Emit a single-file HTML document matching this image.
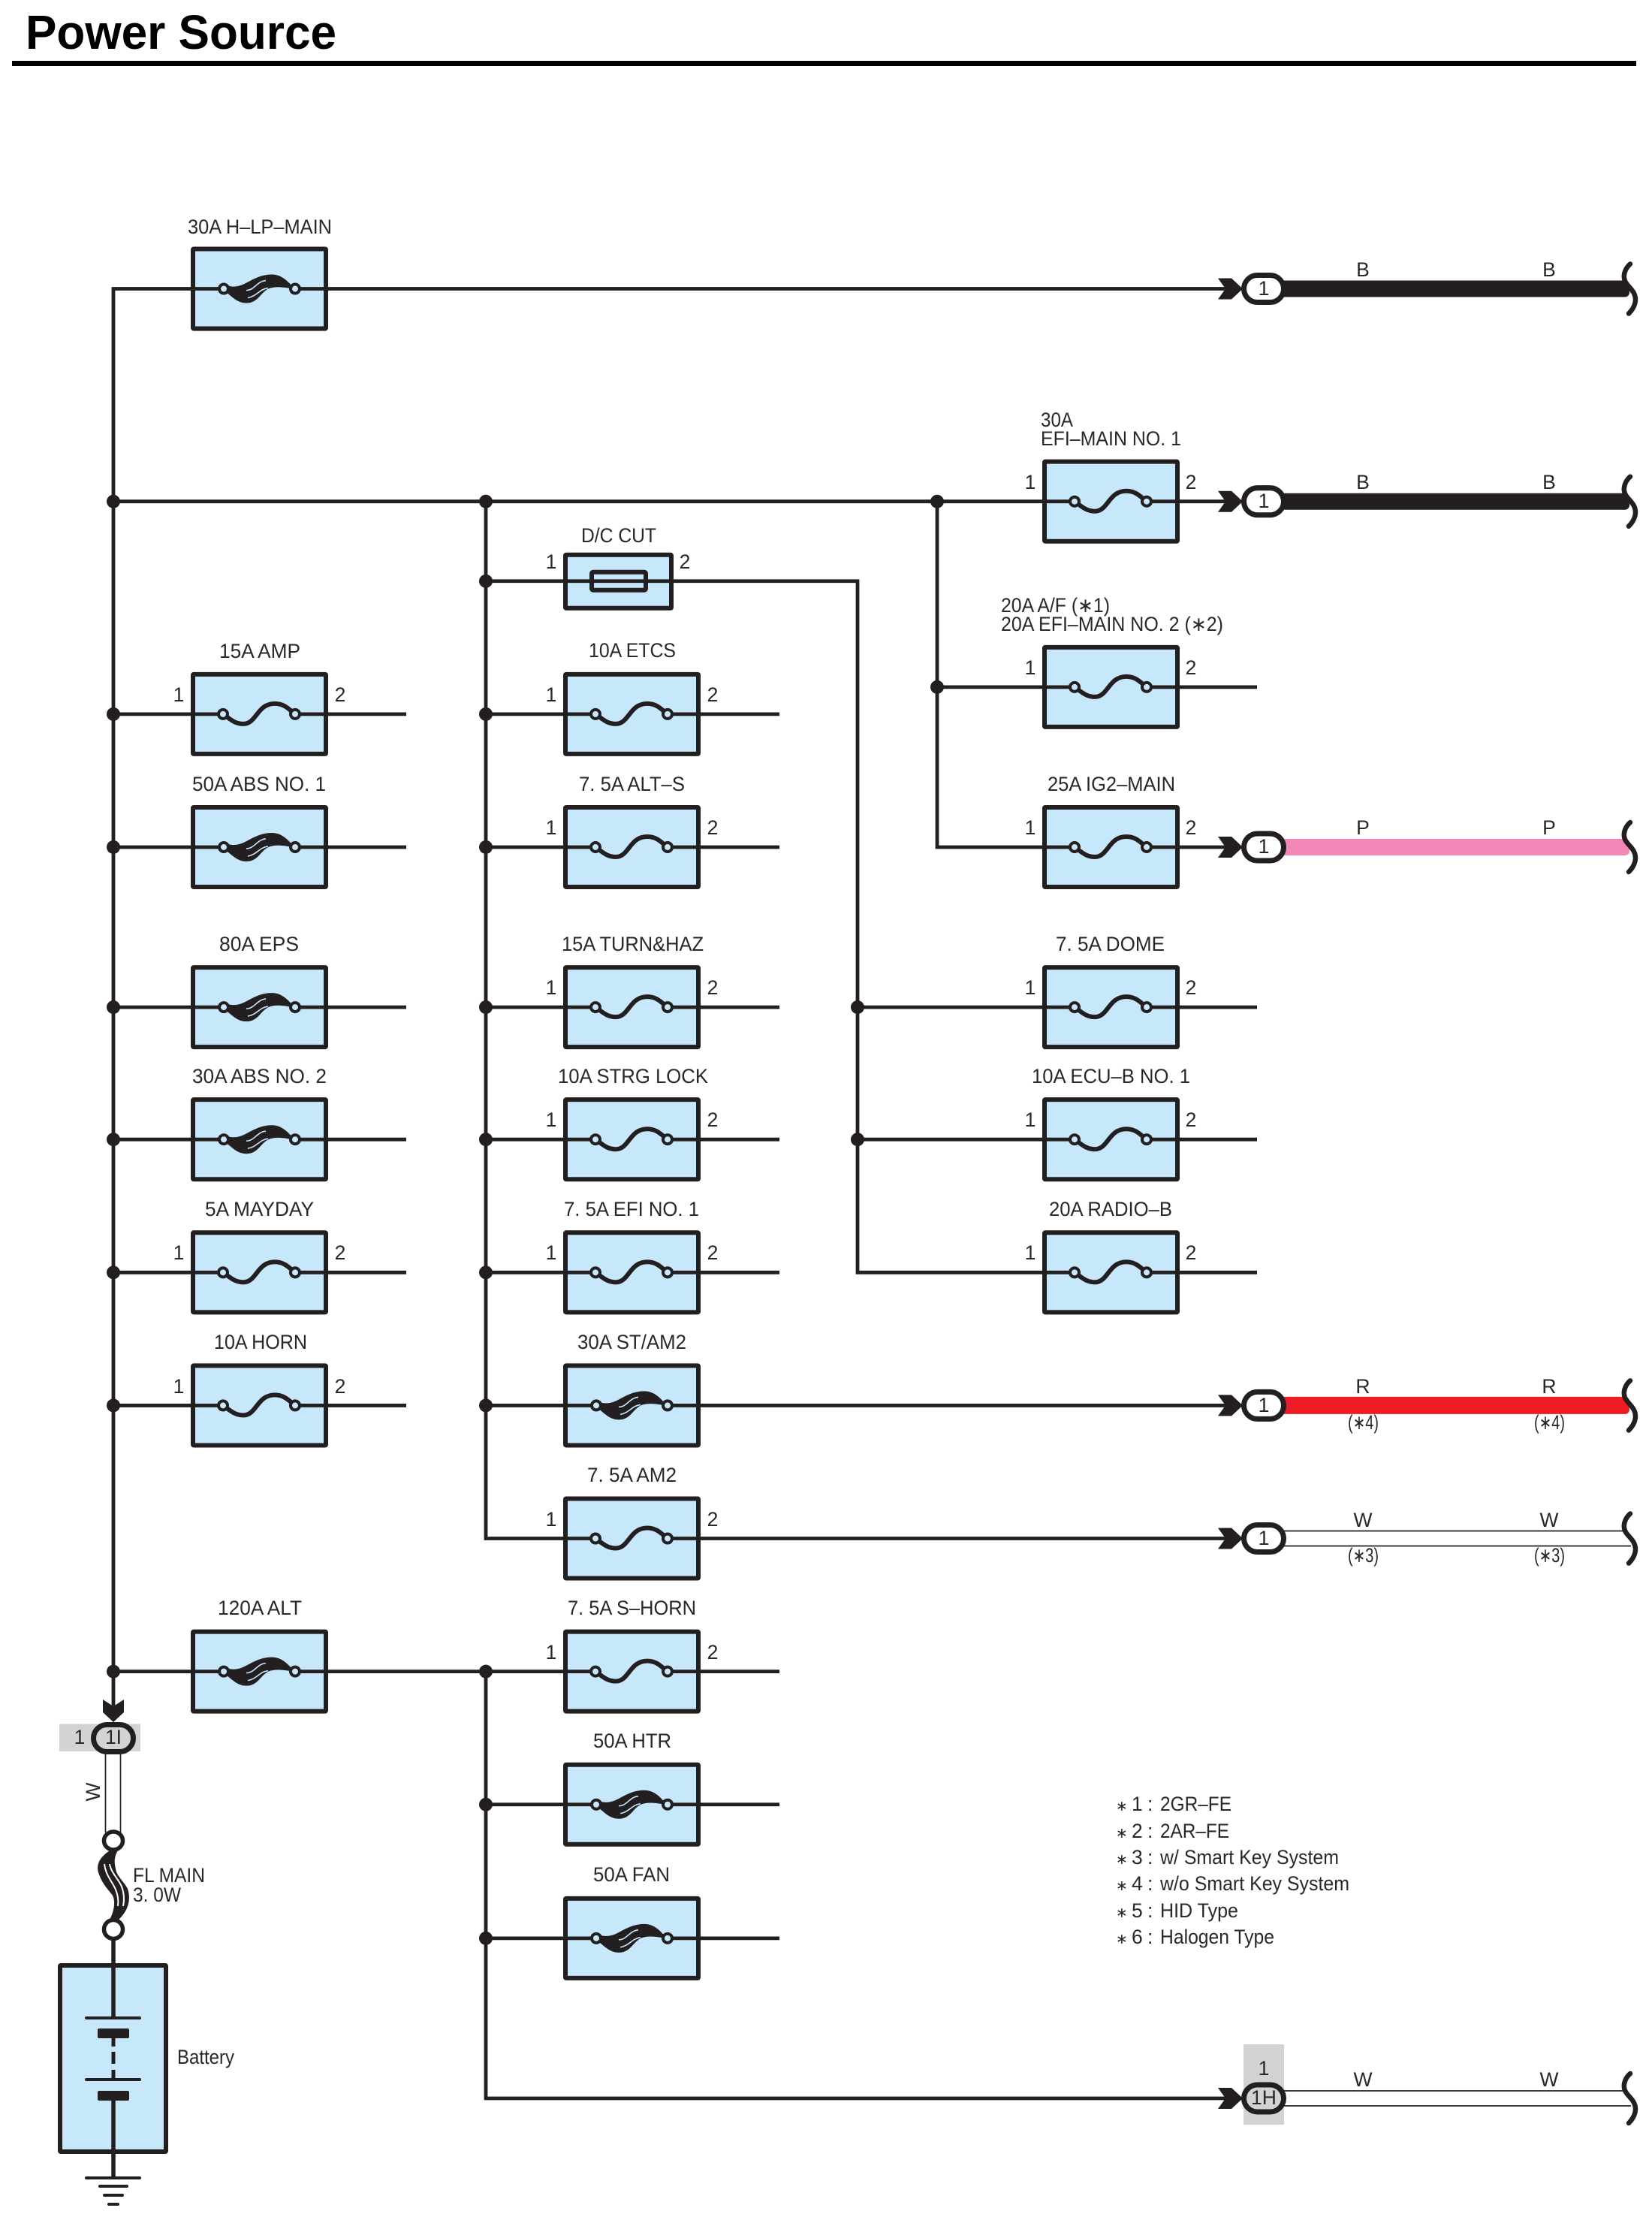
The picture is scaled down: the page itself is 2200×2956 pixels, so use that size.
<!DOCTYPE html>
<html lang="en">
<head>
<meta charset="utf-8">
<title>Power Source</title>
<style>
html,body{margin:0;padding:0;background:#fff}
svg{display:block}
text{font-family:"Liberation Sans","DejaVu Sans",sans-serif;font-size:26.5px;fill:#2a2728}
.m{text-anchor:middle}
.w{fill:none;stroke:#231f20;stroke-width:4.8;stroke-linecap:butt;stroke-linejoin:miter}
</style>
</head>
<body>
<svg xmlns="http://www.w3.org/2000/svg" width="2200" height="2956" viewBox="0 0 2200 2956">
<defs>
  <g id="box">
    <rect x="3" y="-53" width="177" height="106" rx="1" fill="#c7e8fb" stroke="#231f20" stroke-width="6"/>
    <path d="M3,0H43M139,0H180" stroke="#231f20" stroke-width="4.8" fill="none"/>
  </g>
  <g id="thin">
    <use href="#box"/>
    <path d="M43,0C52,6 58,13 70,13C88,13 88,-14 112,-14C125,-14 131,-6 139,0" fill="none" stroke="#231f20" stroke-width="6"/>
    <circle cx="43" cy="0" r="6" fill="#c7e8fb" stroke="#231f20" stroke-width="4"/>
    <circle cx="139" cy="0" r="6" fill="#c7e8fb" stroke="#231f20" stroke-width="4"/>
  </g>
  <g id="heavy">
    <use href="#box"/>
    <path d="M50,-4C71,2 81,-19 108,-19C122,-19 130,-9 138,0C126,-1 118,-4 106,-1C93,3 91,19 74,19C61,19 54,9 46,4Z" fill="#231f20"/>
    <path d="M74,2C85,2 88,-10 100,-11M76,12C88,10 92,0 103,-1" fill="none" stroke="#c7e8fb" stroke-width="1.600"/>
    <circle cx="44" cy="0" r="6" fill="#c7e8fb" stroke="#231f20" stroke-width="4"/>
    <circle cx="139" cy="0" r="6" fill="#c7e8fb" stroke="#231f20" stroke-width="4"/>
  </g>
  <polygon id="chev" points="-61,-14 -43,-14 -28,0 -43,14 -61,14 -51,0" fill="#231f20"/>
  <path id="wave" d="M2171,-33C2165,-28 2162,-20 2163,-14C2164,-6 2172,-2 2176,6C2180,14 2178,24 2169,33" fill="none" stroke="#231f20" stroke-width="6.500" stroke-linecap="round"/>
  <circle id="dot" r="9" fill="#231f20"/>
</defs>

<!-- Title -->
<text x="34" y="65" style="font-weight:bold;font-size:64px;fill:#000" textLength="414" lengthAdjust="spacingAndGlyphs">Power Source</text>
<rect x="16" y="81" width="2163" height="7" fill="#000"/>

<rect x="1656" y="2722" width="54" height="107" fill="#d1d3d4"/>

<g transform="matrix(1 0 0 1.0006 0 .3)">
<!-- Wires -->
<path class="w" d="M1640,384H151V2270"/>
<path class="w" d="M151,667H1640"/>
<path class="w" d="M151,950H541M151,1127H541M151,1340H541M151,1516H541M151,1693H541M151,1870H541"/>
<path class="w" d="M151,2224H1038"/>
<path class="w" d="M647,667V2047H1640"/>
<path class="w" d="M647,2224V2792H1640"/>
<path class="w" d="M647,950H1038M647,1127H1038M647,1340H1038M647,1516H1038M647,1693H1038M647,2401H1038M647,2579H1038"/>
<path class="w" d="M647,773H1142V1693H1674"/>
<path class="w" d="M647,1870H1640"/>
<path class="w" d="M1248,667V1127H1640"/>
<path class="w" d="M1248,914H1674"/>
<path class="w" d="M1142,1340H1674M1142,1516H1674"/>

<!-- Junction dots -->
<use href="#dot" x="151" y="667"/><use href="#dot" x="151" y="950"/><use href="#dot" x="151" y="1127"/>
<use href="#dot" x="151" y="1340"/><use href="#dot" x="151" y="1516"/><use href="#dot" x="151" y="1693"/>
<use href="#dot" x="151" y="1870"/><use href="#dot" x="151" y="2224"/>
<use href="#dot" x="647" y="667"/><use href="#dot" x="647" y="773"/><use href="#dot" x="647" y="950"/>
<use href="#dot" x="647" y="1127"/><use href="#dot" x="647" y="1340"/><use href="#dot" x="647" y="1516"/>
<use href="#dot" x="647" y="1693"/><use href="#dot" x="647" y="1870"/><use href="#dot" x="647" y="2224"/>
<use href="#dot" x="647" y="2401"/><use href="#dot" x="647" y="2579"/>
<use href="#dot" x="1248" y="667"/><use href="#dot" x="1248" y="914"/>
<use href="#dot" x="1142" y="1340"/><use href="#dot" x="1142" y="1516"/>

<!-- Column 1 fuses -->
<use href="#heavy" x="254" y="384"/>
<use href="#thin" x="254" y="950"/>
<use href="#heavy" x="254" y="1127"/>
<use href="#heavy" x="254" y="1340"/>
<use href="#heavy" x="254" y="1516"/>
<use href="#thin" x="254" y="1693"/>
<use href="#thin" x="254" y="1870"/>
<use href="#heavy" x="254" y="2224"/>

<!-- Column 2 fuses -->
<rect x="753" y="738" width="141" height="71" rx="1" fill="#c7e8fb" stroke="#231f20" stroke-width="6"/>
<path d="M753,773H894" stroke="#231f20" stroke-width="4.8"/>
<rect x="788" y="761" width="72" height="24" rx="2" fill="none" stroke="#231f20" stroke-width="6"/>
<use href="#thin" x="750" y="950"/>
<use href="#thin" x="750" y="1127"/>
<use href="#thin" x="750" y="1340"/>
<use href="#thin" x="750" y="1516"/>
<use href="#thin" x="750" y="1693"/>
<use href="#heavy" x="750" y="1870"/>
<use href="#thin" x="750" y="2047"/>
<use href="#thin" x="750" y="2224"/>
<use href="#heavy" x="750" y="2401"/>
<use href="#heavy" x="750" y="2579"/>

<!-- Column 3 fuses -->
<use href="#thin" x="1388" y="667"/>
<use href="#thin" x="1388" y="914"/>
<use href="#thin" x="1388" y="1127"/>
<use href="#thin" x="1388" y="1340"/>
<use href="#thin" x="1388" y="1516"/>
<use href="#thin" x="1388" y="1693"/>

<!-- Output wires -->
<rect x="1705" y="373" width="465" height="22" rx="6" fill="#231f20"/>
<rect x="1705" y="656" width="465" height="22" rx="6" fill="#231f20"/>
<rect x="1705" y="1116" width="465" height="22" rx="6" fill="#f287b7"/>
<rect x="1705" y="1858.500" width="465" height="23" rx="6" fill="#ed1c24"/>
<path d="M1705,2037H2164M1705,2057H2172M1705,2782H2164M1705,2802H2172" stroke="#231f20" stroke-width="1.700" fill="none"/>

<!-- Connectors -->
<g transform="translate(1683,384)"><use href="#chev"/><rect x="-26.500" y="-18" width="53" height="36" rx="18" fill="#fff" stroke="#231f20" stroke-width="7"/></g>
<g transform="translate(1683,667)"><use href="#chev"/><rect x="-26.500" y="-18" width="53" height="36" rx="18" fill="#fff" stroke="#231f20" stroke-width="7"/></g>
<g transform="translate(1683,1127)"><use href="#chev"/><rect x="-26.500" y="-18" width="53" height="36" rx="18" fill="#fff" stroke="#231f20" stroke-width="7"/></g>
<g transform="translate(1683,1870)"><use href="#chev"/><rect x="-26.500" y="-18" width="53" height="36" rx="18" fill="#fff" stroke="#231f20" stroke-width="7"/></g>
<g transform="translate(1683,2047)"><use href="#chev"/><rect x="-26.500" y="-18" width="53" height="36" rx="18" fill="#fff" stroke="#231f20" stroke-width="7"/></g>
<g transform="translate(1683,2792)"><use href="#chev"/><rect x="-26.500" y="-18" width="53" height="36" rx="18" fill="#d1d3d4" stroke="#231f20" stroke-width="7"/></g>

<!-- Wire ends -->
<use href="#wave" x="0" y="384"/>
<use href="#wave" x="0" y="667"/>
<use href="#wave" x="0" y="1127"/>
<use href="#wave" x="0" y="1870"/>
<use href="#wave" x="0" y="2047"/>
<use href="#wave" x="0" y="2792"/>
</g>

<text class="m" x="1683" y="393">1</text>
<text class="m" x="1683" y="676">1</text>
<text class="m" x="1683" y="1136">1</text>
<text class="m" x="1683" y="1880">1</text>
<text class="m" x="1683" y="2057">1</text>
<text class="m" x="1683" y="2763">1</text>
<text class="m" x="1683" y="2802">1H</text>

<!-- Wire colour labels -->
<text class="m" x="1815" y="368">B</text><text class="m" x="2063" y="368">B</text>
<text class="m" x="1815" y="651">B</text><text class="m" x="2063" y="651">B</text>
<text class="m" x="1815" y="1111">P</text><text class="m" x="2063" y="1111">P</text>
<text class="m" x="1815" y="1855">R</text><text class="m" x="2063" y="1855">R</text>
<text x="1795" y="1903" textLength="41" lengthAdjust="spacingAndGlyphs">(∗4)</text>
<text x="2043" y="1903" textLength="41" lengthAdjust="spacingAndGlyphs">(∗4)</text>
<text class="m" x="1815" y="2033">W</text><text class="m" x="2063" y="2033">W</text>
<text x="1795" y="2080" textLength="41" lengthAdjust="spacingAndGlyphs">(∗3)</text>
<text x="2043" y="2080" textLength="41" lengthAdjust="spacingAndGlyphs">(∗3)</text>
<text class="m" x="1815" y="2778">W</text><text class="m" x="2063" y="2778">W</text>

<!-- Column 1 labels -->
<text x="250" y="311" textLength="192" lengthAdjust="spacingAndGlyphs">30A H–LP–MAIN</text>
<text x="292" y="876" textLength="108" lengthAdjust="spacingAndGlyphs">15A AMP</text>
<text x="256" y="1053" textLength="178" lengthAdjust="spacingAndGlyphs">50A ABS NO. 1</text>
<text x="292" y="1266" textLength="106" lengthAdjust="spacingAndGlyphs">80A EPS</text>
<text x="256" y="1442" textLength="179" lengthAdjust="spacingAndGlyphs">30A ABS NO. 2</text>
<text x="273" y="1619" textLength="145" lengthAdjust="spacingAndGlyphs">5A MAYDAY</text>
<text x="285" y="1796" textLength="124" lengthAdjust="spacingAndGlyphs">10A HORN</text>
<text x="290" y="2150" textLength="112" lengthAdjust="spacingAndGlyphs">120A ALT</text>

<!-- Column 2 labels -->
<text x="774" y="722" textLength="100" lengthAdjust="spacingAndGlyphs">D/C CUT</text>
<text x="784" y="875" textLength="116" lengthAdjust="spacingAndGlyphs">10A ETCS</text>
<text x="771" y="1053" textLength="141" lengthAdjust="spacingAndGlyphs">7. 5A ALT–S</text>
<text x="748" y="1266" textLength="189" lengthAdjust="spacingAndGlyphs">15A TURN&amp;HAZ</text>
<text x="743" y="1442" textLength="200" lengthAdjust="spacingAndGlyphs">10A STRG LOCK</text>
<text x="751" y="1619" textLength="180" lengthAdjust="spacingAndGlyphs">7. 5A EFI NO. 1</text>
<text x="769" y="1796" textLength="145" lengthAdjust="spacingAndGlyphs">30A ST/AM2</text>
<text x="782" y="1973" textLength="119" lengthAdjust="spacingAndGlyphs">7. 5A AM2</text>
<text x="756" y="2150" textLength="171" lengthAdjust="spacingAndGlyphs">7. 5A S–HORN</text>
<text x="790" y="2327" textLength="104" lengthAdjust="spacingAndGlyphs">50A HTR</text>
<text x="790" y="2505" textLength="102" lengthAdjust="spacingAndGlyphs">50A FAN</text>

<!-- Column 3 labels -->
<text x="1386" y="568" textLength="43" lengthAdjust="spacingAndGlyphs">30A</text>
<text x="1386" y="593" textLength="187" lengthAdjust="spacingAndGlyphs">EFI–MAIN NO. 1</text>
<text x="1333" y="815" textLength="145" lengthAdjust="spacingAndGlyphs">20A A/F (∗1)</text>
<text x="1333" y="840" textLength="296" lengthAdjust="spacingAndGlyphs">20A EFI–MAIN NO. 2 (∗2)</text>
<text x="1395" y="1053" textLength="170" lengthAdjust="spacingAndGlyphs">25A IG2–MAIN</text>
<text x="1406" y="1266" textLength="145" lengthAdjust="spacingAndGlyphs">7. 5A DOME</text>
<text x="1374" y="1442" textLength="211" lengthAdjust="spacingAndGlyphs">10A ECU–B NO. 1</text>
<text x="1397" y="1619" textLength="164" lengthAdjust="spacingAndGlyphs">20A RADIO–B</text>

<!-- Pin numbers: column 1 -->
<text class="m" x="238" y="934">1</text><text class="m" x="453" y="934">2</text>
<text class="m" x="238" y="1677">1</text><text class="m" x="453" y="1677">2</text>
<text class="m" x="238" y="1855">1</text><text class="m" x="453" y="1855">2</text>

<!-- Pin numbers: column 2 -->
<text class="m" x="734" y="757">1</text><text class="m" x="912" y="757">2</text>
<text class="m" x="734" y="934">1</text><text class="m" x="949" y="934">2</text>
<text class="m" x="734" y="1111">1</text><text class="m" x="949" y="1111">2</text>
<text class="m" x="734" y="1324">1</text><text class="m" x="949" y="1324">2</text>
<text class="m" x="734" y="1500">1</text><text class="m" x="949" y="1500">2</text>
<text class="m" x="734" y="1677">1</text><text class="m" x="949" y="1677">2</text>
<text class="m" x="734" y="2032">1</text><text class="m" x="949" y="2032">2</text>
<text class="m" x="734" y="2209">1</text><text class="m" x="949" y="2209">2</text>

<!-- Pin numbers: column 3 -->
<text class="m" x="1372" y="651">1</text><text class="m" x="1586" y="651">2</text>
<text class="m" x="1372" y="898">1</text><text class="m" x="1586" y="898">2</text>
<text class="m" x="1372" y="1111">1</text><text class="m" x="1586" y="1111">2</text>
<text class="m" x="1372" y="1324">1</text><text class="m" x="1586" y="1324">2</text>
<text class="m" x="1372" y="1500">1</text><text class="m" x="1586" y="1500">2</text>
<text class="m" x="1372" y="1677">1</text><text class="m" x="1586" y="1677">2</text>

<!-- Legend -->
<text x="1486" y="2411"><tspan style="font-size:19px">∗</tspan></text><text x="1507" y="2411">1</text><text x="1528" y="2411">:</text><text x="1545" y="2411" textLength="95" lengthAdjust="spacingAndGlyphs">2GR–FE</text>
<text x="1486" y="2447"><tspan style="font-size:19px">∗</tspan></text><text x="1507" y="2447">2</text><text x="1528" y="2447">:</text><text x="1545" y="2447" textLength="92" lengthAdjust="spacingAndGlyphs">2AR–FE</text>
<text x="1486" y="2482"><tspan style="font-size:19px">∗</tspan></text><text x="1507" y="2482">3</text><text x="1528" y="2482">:</text><text x="1545" y="2482" textLength="238" lengthAdjust="spacingAndGlyphs">w/ Smart Key System</text>
<text x="1486" y="2517"><tspan style="font-size:19px">∗</tspan></text><text x="1507" y="2517">4</text><text x="1528" y="2517">:</text><text x="1545" y="2517" textLength="252" lengthAdjust="spacingAndGlyphs">w/o Smart Key System</text>
<text x="1486" y="2553"><tspan style="font-size:19px">∗</tspan></text><text x="1507" y="2553">5</text><text x="1528" y="2553">:</text><text x="1545" y="2553" textLength="104" lengthAdjust="spacingAndGlyphs">HID Type</text>
<text x="1486" y="2588"><tspan style="font-size:19px">∗</tspan></text><text x="1507" y="2588">6</text><text x="1528" y="2588">:</text><text x="1545" y="2588" textLength="152" lengthAdjust="spacingAndGlyphs">Halogen Type</text>

<!-- Bottom-left: connector, fusible link, battery, ground -->
<rect x="79" y="2295.500" width="108" height="36.500" fill="#d1d3d4"/>
<polygon points="137,2263 151,2272 165,2263 165,2280 151,2293 137,2280" fill="#231f20"/>
<rect x="124.500" y="2296.500" width="53" height="36" rx="18" fill="#d1d3d4" stroke="#231f20" stroke-width="7"/>
<text class="m" x="106" y="2322">1</text>
<text class="m" x="151" y="2322">1I</text>
<path d="M140.500,2335V2440M160.500,2335V2440" stroke="#231f20" stroke-width="1.700" fill="none"/>
<text class="m" transform="translate(133,2386) rotate(-90)" x="0" y="0">W</text>

<path d="M150,2462C135,2470 126,2482 132,2496C137,2510 146,2518 150,2524C154,2532 152,2545 146,2556L158,2556C170,2545 175,2530 170,2515C165,2505 155,2498 154,2488C152,2480 152,2472 157,2464Z" fill="#231f20"/>
<path d="M139,2482C141,2498 150,2506 154,2516C157,2524 158,2530 157,2538M146,2482C148,2494 158,2502 162,2512C165,2520 166,2528 164,2538" fill="none" stroke="#fff" stroke-width="2"/>
<ellipse cx="151" cy="2451" rx="12.500" ry="12" fill="#fff" stroke="#231f20" stroke-width="5.500"/>
<ellipse cx="151" cy="2569" rx="12.500" ry="12.500" fill="#fff" stroke="#231f20" stroke-width="5.500"/>
<rect x="80" y="2617" width="141" height="248" rx="1" fill="#c7e8fb" stroke="#231f20" stroke-width="6"/>
<path d="M151,2583V2687" stroke="#231f20" stroke-width="5.500"/>
<rect x="113" y="2685" width="75" height="4" rx="2" fill="#231f20"/>
<rect x="130" y="2701" width="42" height="13" rx="2" fill="#231f20"/>
<path d="M151,2714V2725M151,2732V2748M151,2756V2769" stroke="#231f20" stroke-width="5"/>
<rect x="113" y="2767" width="75" height="4" rx="2" fill="#231f20"/>
<rect x="130" y="2784" width="42" height="13" rx="2" fill="#231f20"/>
<path d="M151,2797V2900" stroke="#231f20" stroke-width="5.500"/>
<rect x="113" y="2898" width="75" height="4" rx="2" fill="#231f20"/>
<rect x="131" y="2909" width="40" height="4" rx="2" fill="#231f20"/>
<rect x="137" y="2921" width="28" height="4" rx="2" fill="#231f20"/>
<rect x="143" y="2933" width="16" height="4" rx="2" fill="#231f20"/>
<text x="177" y="2506" textLength="96" lengthAdjust="spacingAndGlyphs">FL MAIN</text>
<text x="177" y="2532" textLength="64" lengthAdjust="spacingAndGlyphs">3. 0W</text>
<text x="236" y="2748" textLength="76" lengthAdjust="spacingAndGlyphs">Battery</text>
</svg>
</body>
</html>
